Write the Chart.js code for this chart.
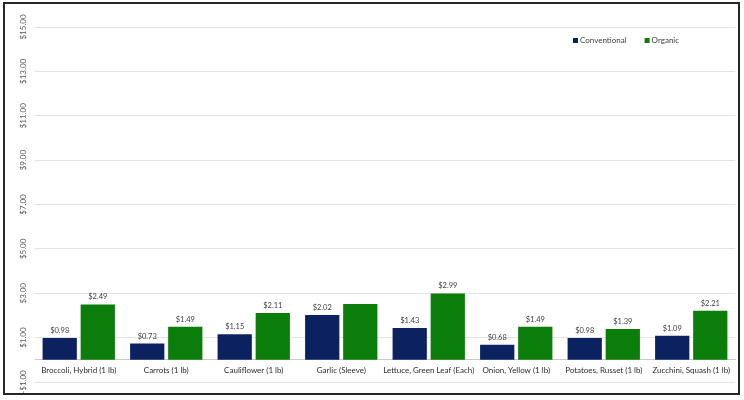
<!DOCTYPE html>
<html><head><meta charset="utf-8">
<script src="https://cdn.jsdelivr.net/npm/chart.js@4"></script>
<style>html,body{margin:0;padding:0;background:#fff}#wrap{width:744px;height:400px;position:relative}</style>
</head><body><div id="wrap"><canvas id="c" width="744" height="400"></canvas></div>
<script>
const categories = ['Broccoli, Hybrid (1 lb)', 'Carrots (1 lb)', 'Cauliflower (1 lb)', 'Garlic (Sleeve)', 'Lettuce, Green Leaf (Each)', 'Onion, Yellow (1 lb)', 'Potatoes, Russet (1 lb)', 'Zucchini, Squash (1 lb)'];
const conventional = [0.98, 0.73, 1.15, 2.02, 1.43, 0.68, 0.98, 1.09];
const organic = [2.49, 1.49, 2.11, 2.51, 2.99, 1.49, 1.39, 2.21];
const organicUnlabeled = ['Garlic (Sleeve)'];
const yTickValues = [-1, 1, 3, 5, 7, 9, 11, 13, 15];
const seriesNames = ['Conventional', 'Organic'];
const seriesColors = ['#0c2160', '#0a7d0a'];

const FONT = 'Lato';
const fmt = v => (v < 0 ? '-' : '') + '$' + Math.abs(v).toFixed(2);

const framePlugin = {
  id: 'frame',
  afterDraw(chart) {
    const ctx = chart.ctx;
    ctx.save();
    ctx.strokeStyle = '#262626';
    ctx.lineWidth = 2;
    ctx.strokeRect(4, 3, 735, 391);
    ctx.restore();
  }
};

const yLabelPlugin = {
  id: 'yLabels',
  afterDraw(chart) {
    const s = chart.scales.y;
    const ctx = chart.ctx;
    ctx.save();
    ctx.font = '8px ' + FONT;
    ctx.fillStyle = '#595959';
    ctx.textAlign = 'center';
    ctx.textBaseline = 'middle';
    s.ticks.forEach(t => {
      const y = s.getPixelForValue(t.value);
      ctx.save();
      ctx.translate(23, y);
      ctx.rotate(-Math.PI / 2);
      ctx.fillText(fmt(t.value), 0, 0);
      ctx.restore();
    });
    ctx.restore();
  }
};

const dataLabelPlugin = {
  id: 'dataLabels',
  afterDatasetsDraw(chart) {
    const ctx = chart.ctx;
    ctx.save();
    ctx.font = '7.5px ' + FONT;
    ctx.fillStyle = '#404040';
    ctx.textAlign = 'center';
    ctx.textBaseline = 'middle';
    chart.data.datasets.forEach((ds, di) => {
      const meta = chart.getDatasetMeta(di);
      meta.data.forEach((el, i) => {
        if (ds.label === 'Organic' && organicUnlabeled.includes(categories[i])) return;
        ctx.fillText(fmt(ds.data[i]), el.x, el.y - 7.5);
      });
    });
    ctx.restore();
  }
};

const legendPlugin = {
  id: 'customLegend',
  afterDraw(chart) {
    const ctx = chart.ctx;
    ctx.save();
    ctx.font = '8px ' + FONT;
    ctx.textBaseline = 'middle';
    ctx.textAlign = 'left';
    let x = 573;
    const y = 40.5;
    chart.data.datasets.forEach(ds => {
      ctx.fillStyle = ds.backgroundColor;
      ctx.fillRect(x, y - 2.5, 5, 5);
      ctx.fillStyle = '#404040';
      ctx.fillText(ds.label, x + 7, y);
      x = x + 7 + ctx.measureText(ds.label).width + 18;
    });
    ctx.restore();
  }
};

new Chart(document.getElementById('c'), {
  type: 'bar',
  data: {
    labels: categories,
    datasets: [
      { label: seriesNames[0], data: conventional, backgroundColor: seriesColors[0], borderWidth: 0, categoryPercentage: 0.87, barPercentage: 0.9 },
      { label: seriesNames[1], data: organic, backgroundColor: seriesColors[1], borderWidth: 0, categoryPercentage: 0.87, barPercentage: 0.9 }
    ]
  },
  options: {
    responsive: false,
    animation: false,
    devicePixelRatio: 1,
    layout: { padding: { top: 27, right: 9, bottom: 18, left: 0 } },
    plugins: { legend: { display: false }, tooltip: { enabled: false } },
    scales: {
      x: {
        position: { y: 0 },
        grid: { display: false, drawTicks: false },
        border: { display: true, color: '#c9c9c9', width: 1 },
        ticks: { padding: 6, font: { family: FONT, size: 8 }, color: '#2b2b2b', maxRotation: 0, minRotation: 0, autoSkip: false }
      },
      y: {
        min: -1, max: 15,
        afterBuildTicks: s => { s.ticks = yTickValues.map(v => ({ value: v })); },
        afterFit: s => { s.width = 35; },
        grid: { color: '#e3e3e3', drawTicks: false, lineWidth: 1 },
        border: { display: false },
        ticks: { display: false, callback: v => fmt(v) }
      }
    }
  },
  plugins: [dataLabelPlugin, yLabelPlugin, legendPlugin, framePlugin]
});
</script>
</body></html>
